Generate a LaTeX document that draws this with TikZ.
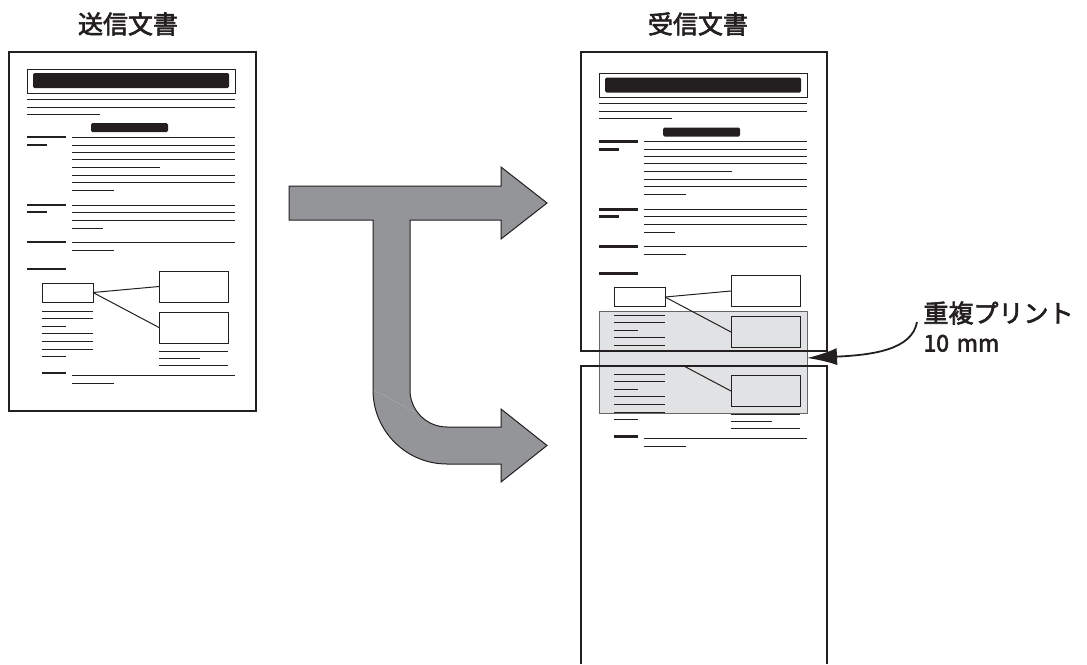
\documentclass[tikz,border=0pt]{standalone}
\usepackage{fontspec}
\newfontfamily\cjk[FakeBold=2.5]{Noto Sans CJK JP}
\usepackage{tikz}
\usetikzlibrary{arrows.meta}

\definecolor{arrowgray}{HTML}{939598}
\definecolor{overlapgray}{HTML}{E1E2E3}
\definecolor{inkblack}{HTML}{231F20}

% one printed page, in the coordinates of the left page
\newcommand{\faxpage}{%
\draw[line width=1pt] (27,69) rectangle (235,93);
\fill[rounded corners=1.5pt] (33,73) rectangle (229,88);
\draw (27,99) -- (235,99);
\draw (27,107) -- (235,107);
\draw (27,114) -- (100,114);
\fill[rounded corners=1.5pt] (91,123) rectangle (168,132);
% headings on the left
\foreach \y in {137,205,242,269} \draw[line width=2.2pt] (27,\y) -- (66,\y);
\foreach \y in {145,212} \draw[line width=2.2pt] (27,\y) -- (47,\y);
% text lines
\foreach \y in {137,145,152,159,175,182,205,212,220,242} \draw (72,\y) -- (235,\y);
\draw (72,167) -- (160,167);
\draw (72,190) -- (114,190);
\draw (72,228) -- (103,228);
\draw (72,250) -- (114,250);
% small chart
\draw (42,283) rectangle (93,302);
\draw (159,271) rectangle (228,302);
\draw (159,312) rectangle (228,343);
\draw (93,292.5) -- (159,286.5);
\draw (93,292.5) -- (159,327.5);
\foreach \y in {311,318,333,341,349} \draw (42,\y) -- (93,\y);
\foreach \y in {326,356} \draw (42,\y) -- (66,\y);
\draw (159,351) -- (228,351);
\draw (159,358) -- (200,358);
\draw (159,365) -- (228,365);
\draw[line width=2.2pt] (42,373) -- (66,373);
\draw (72,375) -- (235,375);
\draw (72,383) -- (114,383);
}

\begin{document}
\begin{tikzpicture}[x=1pt,y=-1pt,line width=1pt,color=inkblack]

\useasboundingbox (0,0) rectangle (1087,664);

\node[font=\cjk\fontsize{25}{29}\selectfont] (sendtitle) at (128,24) {送信文書};
\node[font=\cjk\fontsize{25}{29}\selectfont] (recvtitle) at (698,24) {受信文書};

% sent document
\draw[line width=1.3pt] (9,52) rectangle (256,411);
\faxpage

% the split arrow
\draw[fill=arrowgray, line width=1pt] (289,186) -- (501,186) -- (501,167) -- (547,203) -- (501,239) -- (501,220)
    -- (410,220) -- (410,390) arc (180:90:37) -- (501,427) -- (501,409) -- (547,445.5) -- (501,482) -- (501,464)
    -- (447,464) arc (90:180:74) -- (373,220) -- (289,220) -- cycle;
\draw[white, dotted, line width=0.4pt] (373.5,390) -- (415,412);

% overlap of the two received pages
\draw[fill=overlapgray, draw=black!60, line width=1pt] (599,311) rectangle (807,413);

 \begin{scope}
\clip (581,52) rectangle (827,351);
  \begin{scope}[shift={(572,4.5)}]
\faxpage
  \end{scope}
 \end{scope}

 \begin{scope}
\clip (581,366) rectangle (827,664);
  \begin{scope}[shift={(572,63.5)}]
\faxpage
  \end{scope}
 \end{scope}

\draw[line width=1.3pt] (581,52) rectangle (827,351);
\draw[line width=1.3pt] (581,664) -- (581,366) -- (827,366) -- (827,664);

% label of the overlap
\node[anchor=north west, align=left, inner sep=0pt, font=\cjk\fontsize{25}{29}\selectfont] (overlap) at (923,301)
    {重複プリント\\\fontsize{23}{29}\selectfont 10\,\,mm};
\coordinate (ovstart) at (917,322);
\coordinate (ovend) at (807,358);
\draw[-{Latex[length=30pt,width=17pt]}, line width=1.8pt] (ovstart) .. controls (912,350) and (872,355) .. (ovend);

\end{tikzpicture}
\end{document}
